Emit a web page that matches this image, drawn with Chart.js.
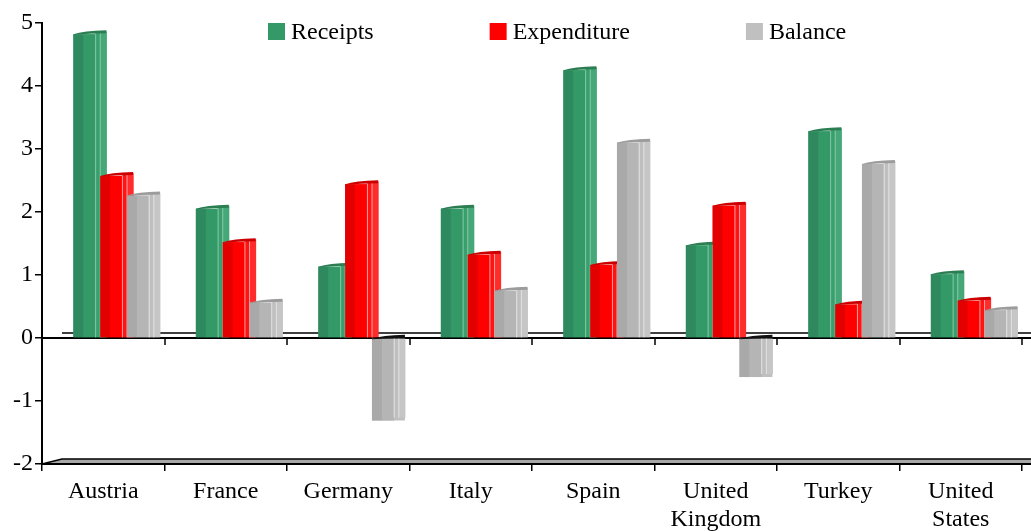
<!DOCTYPE html>
<html>
<head>
<meta charset="utf-8">
<title>Receipts, expenditure and balance</title>
<script src="https://cdn.jsdelivr.net/npm/chart.js@4.4.1/dist/chart.umd.min.js"></script>
<style>
  html, body { margin: 0; padding: 0; background: #fff; }
  canvas { display: block; }
</style>
</head>
<body>
<canvas id="chart" width="1031" height="531"></canvas>
<script>
// values
var categories = ['Austria', 'France', 'Germany', 'Italy', 'Spain', ['United', 'Kingdom'], 'Turkey', ['United', 'States']]
var receipts = [4.82, 2.05, 1.13, 2.05, 4.25, 1.47, 3.28, 1.01]
var expenditure = [2.57, 1.52, 2.44, 1.32, 1.16, 2.10, 0.53, 0.59]
var balance = [2.26, 0.56, -1.31, 0.75, 3.10, -0.62, 2.76, 0.44]
var seriesNames = ['Receipts', 'Expenditure', 'Balance']
var yMin = -2, yMax = 5, yStep = 1

// look
var baseColors = ['#339966', '#ff0000', '#c0c0c0']
var stripeColors = [
    ['#2e8a5e', '#339966', '#3a9f6e', '#46a878'],
    ['#e20000', '#ff0000', '#ff1414', '#ff2c2c'],
    ['#a9a9a9', '#b5b5b5', '#bfbfbf', '#c6c6c6']
]
var edgeColors = ['#86c9a4', '#ff9c9c', '#e2e2e2']
var capColors = ['#2b7d52', '#cc0000', '#9c9c9c']
var stripeWidths = [0.3, 0.36, 0.14, 0.2]
var FONT = '"Liberation Serif", "Times New Roman", serif'

Chart.defaults.font.family = FONT
Chart.defaults.font.size = 24
Chart.defaults.color = '#000'

// 3D floor at the bottom and the zero plane
var floorPlugin = {
    id: 'floor3d',
    beforeDatasetsDraw: function(chart) {
        var ctx = chart.ctx, area = chart.chartArea
        var xs = chart.scales.x, ys = chart.scales.y
        var y0 = ys.getPixelForValue(0), yb = ys.getPixelForValue(yMin)
        var w = chart.width, depth = 20, rise = 5
        ctx.save()
        // bottom floor band
        ctx.fillStyle = '#a8a8a8'
        ctx.beginPath()
        ctx.moveTo(area.left, yb)
        ctx.lineTo(area.left + depth, yb - rise)
        ctx.lineTo(w, yb - rise)
        ctx.lineTo(w, yb)
        ctx.closePath()
        ctx.fill()
        ctx.strokeStyle = '#000'
        ctx.lineWidth = 1.5
        ctx.beginPath()
        ctx.moveTo(area.left, yb)
        ctx.lineTo(area.left + depth, yb - rise)
        ctx.lineTo(w, yb - rise)
        ctx.stroke()
        ctx.lineWidth = 2
        ctx.beginPath()
        ctx.moveTo(area.left, yb)
        ctx.lineTo(w, yb)
        ctx.stroke()
        // zero plane: back edge, front edge and its ticks
        ctx.lineWidth = 1.5
        ctx.beginPath()
        ctx.moveTo(area.left + depth, y0 - rise)
        ctx.lineTo(w, y0 - rise)
        ctx.stroke()
        ctx.lineWidth = 2
        ctx.beginPath()
        ctx.moveTo(area.left, y0)
        ctx.lineTo(w, y0)
        ctx.stroke()
        var half = (xs.getPixelForValue(1) - xs.getPixelForValue(0)) / 2
        ctx.lineWidth = 1.5
        ctx.beginPath()
        for (var k = 0; k <= categories.length; k++) {
            var bx = Math.round(xs.getPixelForValue(0) - half + 2 * half * k)
            ctx.moveTo(bx, y0)
            ctx.lineTo(bx, y0 + 7)
        }
        ctx.stroke()
        ctx.restore()
    }
}

// cylinder-like shading, side and cap over each bar
var bar3dPlugin = {
    id: 'bar3d',
    afterDatasetsDraw: function(chart) {
        var ctx = chart.ctx
        ctx.save()
        for (var i = 0; i < categories.length; i++) {
            chart.data.datasets.forEach(function(ds, d) {
                var st = ds.styleIndex
                if (st === undefined) return
                var el = chart.getDatasetMeta(d).data[i]
                if (!el) return
                var p = el.getProps(['x', 'y', 'base', 'width'], true)
                var left = p.x - p.width / 2, right = p.x + p.width / 2
                var neg = p.y > p.base
                var top = Math.min(p.y, p.base), bot = Math.max(p.y, p.base)
                var cx = left
                for (var s = 0; s < stripeWidths.length; s++) {
                    var sw = p.width * stripeWidths[s]
                    var back = s >= 2 ? 3 : 0
                    var sy = top - (neg ? 0 : back)
                    var sh = bot - top + (neg ? -back : back)
                    ctx.fillStyle = stripeColors[st][s]
                    ctx.fillRect(cx, sy, sw + 0.5, sh)
                    if (s >= 2) {
                        ctx.fillStyle = edgeColors[st]
                        ctx.fillRect(cx, sy, 1, sh)
                    }
                    cx += sw
                }
                // cap
                ctx.fillStyle = neg ? '#111' : capColors[st]
                ctx.beginPath()
                ctx.moveTo(left, top)
                ctx.quadraticCurveTo(left + p.width * 0.3, top - 3.5, right, top - 4)
                ctx.lineTo(right, top - 1)
                ctx.quadraticCurveTo(left + p.width * 0.5, top - 1, left, top + 0.5)
                ctx.closePath()
                ctx.fill()
            })
        }
        ctx.restore()
    }
}

// legend spread across the top of the plot
var legendPlugin = {
    id: 'topLegend',
    afterDraw: function(chart) {
        var ctx = chart.ctx, area = chart.chartArea
        var box = 17, gap = 6, spacing = 116
        var x = 268, y = area.top
        ctx.save()
        ctx.font = '24px ' + FONT
        ctx.textBaseline = 'middle'
        ctx.textAlign = 'left'
        chart.data.datasets.forEach(function(ds) {
            if (ds.styleIndex === undefined) return
            ctx.fillStyle = baseColors[ds.styleIndex]
            ctx.fillRect(x, y, box, box)
            ctx.fillStyle = '#000'
            ctx.fillText(ds.label, x + box + gap, y + box / 2 + 1)
            x += box + gap + ctx.measureText(ds.label).width + spacing
        })
        ctx.restore()
    }
}

new Chart(document.getElementById('chart'), {
    type: 'bar',
    data: {
        labels: categories,
        datasets: [
            // empty front slot: pushes the three bars right of the category centre, like the 3D depth offset
            { label: '', data: [], backgroundColor: 'rgba(0,0,0,0)' },
            { label: seriesNames[0], data: receipts, backgroundColor: baseColors[0], styleIndex: 0 },
            { label: seriesNames[1], data: expenditure, backgroundColor: baseColors[1], styleIndex: 1 },
            { label: seriesNames[2], data: balance, backgroundColor: baseColors[2], styleIndex: 2 }
        ]
    },
    options: {
        responsive: false,
        animation: false,
        devicePixelRatio: 1,
        categoryPercentage: 0.875,
        barPercentage: 1.23,
        layout: { padding: { top: 23, right: 9, left: 0, bottom: 0 } },
        plugins: {
            legend: { display: false },
            tooltip: { enabled: false }
        },
        scales: {
            x: {
                grid: { drawOnChartArea: false, tickLength: 7, color: '#000', lineWidth: 1.5 },
                border: { display: true, color: '#000', width: 2 },
                ticks: { padding: 6, maxRotation: 0, autoSkip: false, font: { size: 24 } },
                afterFit: function(scale) { scale.height = 67 }
            },
            y: {
                min: yMin,
                max: yMax,
                ticks: { stepSize: yStep, padding: 2, font: { size: 24 } },
                grid: { drawOnChartArea: false, tickLength: 7, color: '#000', lineWidth: 1.5 },
                border: { display: true, color: '#000', width: 2 },
                afterFit: function(scale) { scale.width = 42 }
            }
        }
    },
    plugins: [floorPlugin, bar3dPlugin, legendPlugin]
})
</script>
</body>
</html>
